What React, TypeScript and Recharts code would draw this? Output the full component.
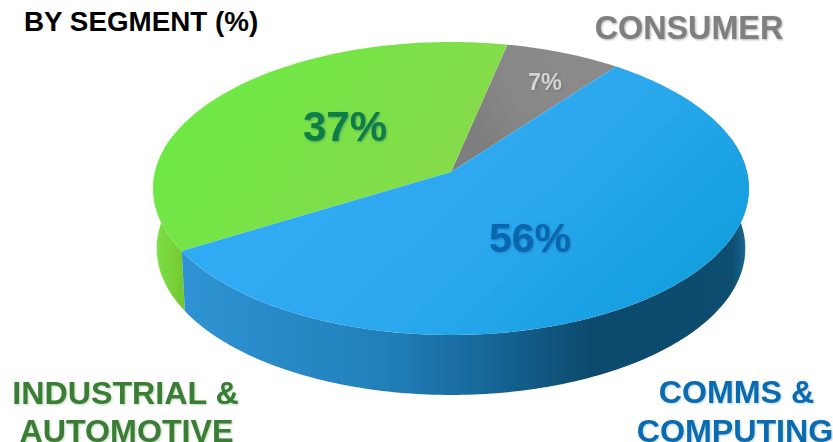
import React from "react";
import { PieChart, Pie } from "recharts";

const segments = ["CONSUMER", "INDUSTRIAL & AUTOMOTIVE", "COMMS & COMPUTING"];
const shares = [7, 37, 56];
const topFills = ["url(#topGray)", "url(#topGreen)", "url(#topBlue)"];
const wallFills = ["none", "url(#wallGreen)", "url(#wallBlue)"];

const chartData = segments.map((name, i) => ({ name, value: shares[i], idx: i }));

const W = 833;
const H = 442;
const CX = 451;
const CY = 172;
const R = 150;
const AX = 296 / R;
const AY = 144.6 / R;
const K = 0.1126;
const DEPTH = 60;
const BOTTOM_SCALE = 0.988;

function proj(cx: number, cy: number, r: number, deg: number, bottom: boolean) {
  const t = (deg * Math.PI) / 180;
  const u = Math.cos(t);
  const v = -Math.sin(t);
  const w = 1 - K * v;
  const s = bottom ? BOTTOM_SCALE : 1;
  return [cx + (AX * r * s * u) / w, cy + (AY * r * v) / w + (bottom ? DEPTH : 0)];
}

function arc(cx: number, cy: number, r: number, a0: number, a1: number, bottom: boolean) {
  const pts: string[] = [];
  const n = Math.max(2, Math.ceil(Math.abs(a1 - a0)));
  for (let i = 0; i <= n; i++) {
    const p = proj(cx, cy, r, a0 + ((a1 - a0) * i) / n, bottom);
    pts.push(p[0].toFixed(2) + " " + p[1].toFixed(2));
  }
  return pts;
}

function Slice3D(props: any) {
  const { cx, cy, outerRadius, startAngle, endAngle, payload } = props;
  const idx = payload?.idx ?? props.idx ?? 0;
  const lo = Math.min(startAngle, endAngle);
  const hi = Math.max(startAngle, endAngle);
  const wLo = Math.max(lo, 165);
  const wHi = Math.min(hi, 375);
  const top = "M" + cx + " " + cy + " L" + arc(cx, cy, outerRadius, lo, hi, false).join(" L") + " Z";
  const wall =
    wHi > wLo && idx > 0
      ? "M" +
        arc(cx, cy, outerRadius, wLo, wHi, false).join(" L") +
        " L" +
        arc(cx, cy, outerRadius, wHi, wLo, true).join(" L") +
        " Z"
      : null;
  return (
    <g>
      <defs>
        <linearGradient id="topBlue" gradientUnits="userSpaceOnUse" x1="420" y1="110" x2="640" y2="340">
          <stop offset="0" stopColor="#30aaf2" />
          <stop offset="0.4" stopColor="#2ca8ef" />
          <stop offset="1" stopColor="#139fdf" />
        </linearGradient>
        <linearGradient id="topGreen" gradientUnits="userSpaceOnUse" x1="220" y1="60" x2="420" y2="210">
          <stop offset="0" stopColor="#6de945" />
          <stop offset="1" stopColor="#86db4a" />
        </linearGradient>
        <linearGradient id="topGray" gradientUnits="userSpaceOnUse" x1="470" y1="120" x2="560" y2="70">
          <stop offset="0" stopColor="#7e7e7e" />
          <stop offset="0.45" stopColor="#878787" />
          <stop offset="1" stopColor="#8a8a8a" />
        </linearGradient>
        <linearGradient id="wallGreen" gradientUnits="userSpaceOnUse" x1="153" y1="0" x2="187" y2="0">
          <stop offset="0" stopColor="#8fe860" />
          <stop offset="0.15" stopColor="#7cdf45" />
          <stop offset="1" stopColor="#73c42c" />
        </linearGradient>
        <linearGradient id="wallBlue" gradientUnits="userSpaceOnUse" x1="184" y1="0" x2="749" y2="0">
          <stop offset="0" stopColor="#2f93d3" />
          <stop offset="0.35" stopColor="#2180ba" />
          <stop offset="0.55" stopColor="#156595" />
          <stop offset="0.72" stopColor="#0d4a6d" />
          <stop offset="0.97" stopColor="#0d4d70" />
          <stop offset="0.99" stopColor="#17628a" />
          <stop offset="1" stopColor="#3a88b0" />
        </linearGradient>
      </defs>
      {wall && <path d={wall} fill={wallFills[idx]} stroke="none" />}
      <path d={top} fill={topFills[idx]} stroke="none" />
    </g>
  );
}

const FONT = '"Liberation Sans", Arial, sans-serif';
const shadow = (c: string) => ({ filter: `drop-shadow(1px 1px 1px ${c})` });

function Txt(p: { x: number; y: number; size: number; fill: string; anchor?: string; weight?: string; sh?: string; children: any }) {
  return (
    <text
      x={p.x}
      y={p.y}
      fontSize={p.size}
      fontFamily={FONT}
      fontWeight={p.weight ?? "bold"}
      fill={p.fill}
      textAnchor={(p.anchor as any) ?? "middle"}
      style={p.sh ? shadow(p.sh) : undefined}
    >
      {p.children}
    </text>
  );
}

export default function App() {
  return (
    <div style={{ position: "absolute", left: 0, top: 0, width: W, height: H, overflow: "hidden", background: "#fff" }}>
      <PieChart width={W} height={H} margin={{ top: 0, right: 0, bottom: 0, left: 0 }}>
        <Pie
          data={chartData}
          dataKey="value"
          nameKey="name"
          cx={CX}
          cy={CY}
          outerRadius={R}
          innerRadius={0}
          startAngle={52.6}
          endAngle={412.6}
          stroke="none"
          paddingAngle={0}
          isAnimationActive={false}
          shape={Slice3D}
        />
      </PieChart>
      <svg width={W} height={H} style={{ position: "absolute", left: 0, top: 0, pointerEvents: "none" }}>
        <Txt x={24} y={31} size={27.8} fill="#000" anchor="start">BY SEGMENT (%)</Txt>
        <Txt x={689} y={39} size={32.3} fill="#7f7f7f" sh="#b0b0b0">{segments[0]}</Txt>
        <Txt x={125.5} y={403.5} size={32.2} fill="#3a7d34" sh="#c0d4be">INDUSTRIAL &amp;</Txt>
        <Txt x={126.5} y={442} size={32.2} fill="#3a7d34" sh="#c0d4be">AUTOMOTIVE</Txt>
        <Txt x={736.5} y={403} size={32.2} fill="#0a6bb0" sh="#b5d2e8">COMMS &amp;</Txt>
        <Txt x={735} y={442} size={32.2} fill="#0a6bb0" sh="#b5d2e8">COMPUTING</Txt>
        <Txt x={345} y={141} size={42} fill="#0e7d47" sh="#4f9f5a">{shares[1] + "%"}</Txt>
        <Txt x={530} y={252} size={41} fill="#0a66ad" sh="#1d7fc4">{shares[2] + "%"}</Txt>
        <Txt x={545} y={90} size={23.5} fill="#d4d4d4" sh="#707070">{shares[0] + "%"}</Txt>
      </svg>
    </div>
  );
}
